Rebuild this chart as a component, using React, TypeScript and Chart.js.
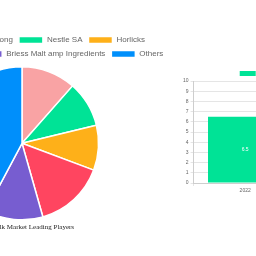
import React, { useEffect, useRef } from "react";
import { Chart, registerables } from "chart.js";

Chart.register(...registerables);

const pieLabels = [
  "Kerry Group Hong Kong",
  "Nestle SA",
  "Horlicks",
  "Malt Products Co.",
  "Briess Malt amp Ingredients",
  "Others",
];
const pieValues = [11.5, 9.7, 9.5, 14.9, 12.2, 42.2];
const pieColors = ["#F9A3A4", "#00E396", "#FEB019", "#FF4560", "#775DD0", "#008FFB"];
const pieTitle = "Malted Milk Market Leading Players";

const barLabels = ["2022", "2033"];
const barValues = [6.5, 9.6];
const barSeriesName = "Malted Milk Market Size (Billion USD)";
const barColor = "#00E396";
const yTicksMax = 10;

const SANS = "'Liberation Sans', Arial, sans-serif";

const barValuePlugin = {
  id: "barValueLabels",
  afterDatasetsDraw(chart: any) {
    const ctx = chart.ctx;
    chart.data.datasets.forEach((ds: any, di: number) => {
      const meta = chart.getDatasetMeta(di);
      meta.data.forEach((el: any, i: number) => {
        const props = el.getProps(["x", "y", "base"], true);
        ctx.save();
        ctx.fillStyle = "#ffffff";
        ctx.font = `5px ${SANS}`;
        ctx.textAlign = "center";
        ctx.textBaseline = "middle";
        ctx.fillText(String(ds.data[i]), props.x, (props.y + props.base) / 2);
        ctx.restore();
      });
    });
  },
};

export default function App() {
  const pieRef = useRef<HTMLCanvasElement>(null);
  const barRef = useRef<HTMLCanvasElement>(null);

  useEffect(() => {
    const pie = new Chart(pieRef.current!, {
      type: "pie",
      data: {
        labels: pieLabels,
        datasets: [
          {
            data: pieValues,
            backgroundColor: pieColors,
            borderColor: "#ffffff",
            borderWidth: 1.5,
          },
        ],
      },
      options: {
        responsive: false,
        animation: false,
        devicePixelRatio: 1,
        layout: { padding: 0 },
        plugins: {
          legend: {
            position: "top",
            maxHeight: 36,
            labels: {
              boxWidth: 24,
              boxHeight: 7,
              padding: 6,
              color: "#666",
              font: { size: 8, family: SANS },
            },
          },
          title: {
            display: true,
            position: "bottom",
            text: pieTitle,
            color: "#222",
            font: { size: 7, family: "'Liberation Serif', 'Times New Roman', serif", weight: "normal" },
            padding: { top: 2, bottom: 4 },
          },
          tooltip: { enabled: false },
        },
      },
    });

    const bar = new Chart(barRef.current!, {
      type: "bar",
      data: {
        labels: barLabels,
        datasets: [
          {
            label: barSeriesName,
            data: barValues,
            backgroundColor: barColor,
          },
        ],
      },
      options: {
        responsive: false,
        animation: false,
        devicePixelRatio: 1,
        layout: { padding: 0 },
        scales: {
          x: {
            grid: { tickLength: 3, color: "rgba(0,0,0,0.1)" },
            ticks: { padding: 2, color: "#666", font: { size: 5, family: SANS } },
          },
          y: {
            min: 0,
            max: yTicksMax,
            grid: { tickLength: 3, color: "rgba(0,0,0,0.1)" },
            ticks: { stepSize: 1, padding: 2, color: "#666", font: { size: 5, family: SANS } },
          },
        },
        plugins: {
          legend: {
            position: "top",
            maxHeight: 14,
            labels: {
              boxWidth: 16,
              boxHeight: 5,
              padding: 4,
              color: "#666",
              font: { size: 5, family: SANS },
            },
          },
          tooltip: { enabled: false },
        },
      },
      plugins: [barValuePlugin],
    });

    return () => {
      pie.destroy();
      bar.destroy();
    };
  }, []);

  return (
    <div
      style={{
        position: "fixed",
        left: 0,
        top: 0,
        width: 256,
        height: 256,
        overflow: "hidden",
        background: "#fff",
      }}
    >
      <canvas
        ref={pieRef}
        width={300}
        height={205}
        style={{ position: "absolute", left: -128, top: 30, width: 300, height: 205 }}
      />
      <canvas
        ref={barRef}
        width={219}
        height={129}
        style={{ position: "absolute", left: 181, top: 67, width: 219, height: 129 }}
      />
    </div>
  );
}
